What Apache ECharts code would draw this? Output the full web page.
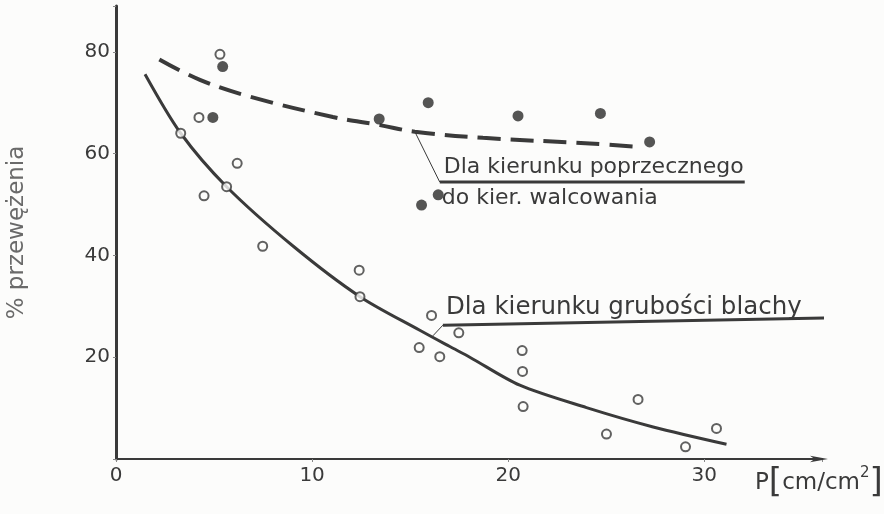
<!DOCTYPE html>
<html>
<head>
<meta charset="utf-8">
<script src="https://cdn.jsdelivr.net/npm/echarts@6/dist/echarts.min.js"></script>
<style>
html,body{margin:0;padding:0;background:#fcfcfb;}
#c{width:884px;height:514px;}
</style>
</head>
<body>
<div id="c"></div>
<script>
// ---- data ----
var xTicks = [0, 10, 20, 30];
var yTicks = [20, 40, 60, 80];

// filled circles: transverse to rolling direction
var transversePts = [
  [4.94, 67.1], [5.44, 77.1], [13.42, 66.8], [15.58, 49.9], [15.92, 70.0],
  [16.43, 51.9], [20.5, 67.4], [24.7, 67.9], [27.21, 62.3]
];
// open circles: sheet thickness direction
var thicknessPts = [
  [5.30, 79.5], [4.23, 67.1], [3.30, 64.0], [6.18, 58.1], [4.49, 51.7],
  [5.64, 53.5], [7.48, 41.8], [12.40, 37.1], [12.44, 31.9], [16.09, 28.2],
  [17.48, 24.8], [15.46, 21.9], [16.51, 20.1], [20.71, 21.3], [20.73, 17.2],
  [20.76, 10.3], [26.62, 11.7], [25.01, 4.9], [30.62, 6.0], [29.04, 2.4]
];
// fitted curves
var transverseCurve = [
  [2.21, 78.5], [4.28, 74.5], [6.83, 71.2], [11.06, 67.2], [13.46, 65.6],
  [15.24, 64.3], [18.71, 63.1], [24.16, 62.0], [26.7, 61.3]
];
var thicknessCurve = [
  [1.48, 75.6], [3.30, 64.0], [5.64, 53.5], [9.04, 41.8], [12.44, 31.9],
  [15.49, 25.3], [17.02, 22.1], [18.04, 20.0], [20.59, 14.5], [23.99, 10.1],
  [27.39, 6.3], [31.13, 2.9]
];
// annotation leader lines (data coords)
var upperLeader = [[15.24, 64.3], [16.51, 54.4]];
var upperUnderline = [[16.51, 54.4], [32.06, 54.4]];
var lowerLeader = [[16.16, 24.2], [16.67, 26.3]];
var lowerUnderline = [[16.67, 26.3], [36.4, 27.7]];
var upperText1 = 'Dla kierunku poprzecznego';
var upperText2 = 'do kier. walcowania';
var lowerText = 'Dla kierunku grubości blachy';
var yName = '% przewężenia';

var INK = '#3a3a3a';
var FONT = 'DejaVu Sans';

var chart = echarts.init(document.getElementById('c'));

function annLine(d, w) {
  return {
    type: 'line', data: d, showSymbol: false, symbol: 'none', silent: true,
    lineStyle: {color: INK, width: w}, z: 3, clip: false
  };
}

var option = {
  backgroundColor: '#fcfcfb',
  animation: false,
  grid: {left: 116, right: 62, top: 6, bottom: 55, containLabel: false, outerBoundsMode: 'none'},
  xAxis: {
    type: 'value', min: 0, max: 36, interval: 10,
    splitLine: {show: false},
    axisLine: {show: true, lineStyle: {color: INK, width: 2},
               symbol: ['none', 'arrow'], symbolSize: [5, 18], symbolOffset: [0, 6]},
    axisTick: {show: true, length: 3, lineStyle: {color: '#888', width: 1}},
    axisLabel: {color: INK, fontSize: 20, fontFamily: FONT, margin: 7,
      formatter: function (v) { return xTicks.indexOf(v) >= 0 ? String(v) : ''; }}
  },
  yAxis: {
    type: 'value', min: 0, max: 89, interval: 20,
    splitLine: {show: false},
    axisLine: {show: true, lineStyle: {color: INK, width: 3}},
    axisTick: {show: true, length: 3, lineStyle: {color: '#888', width: 1}},
    axisLabel: {color: INK, fontSize: 20, fontFamily: FONT, margin: 6,
      formatter: function (v) { return yTicks.indexOf(v) >= 0 ? String(v) : ''; }},
    name: yName, nameLocation: 'middle', nameGap: 87, nameRotate: 90,
    nameTextStyle: {color: '#6a6a6a', fontSize: 23, fontFamily: FONT}
  },
  series: [
    {
      type: 'line', data: transverseCurve, smooth: 0.4, showSymbol: false, symbol: 'none',
      lineStyle: {color: INK, width: 4, type: [23, 10]}, z: 2
    },
    {
      type: 'line', data: thicknessCurve, smooth: 0.3,
      showSymbol: false, symbol: 'none',
      lineStyle: {color: INK, width: 3}, z: 2
    },
    {
      type: 'scatter', data: transversePts, symbol: 'circle', symbolSize: 11,
      itemStyle: {color: '#2a2a2a'}, z: 4
    },
    {
      type: 'scatter', data: thicknessPts, symbol: 'circle', symbolSize: 9,
      itemStyle: {color: '#fcfcfb', borderColor: INK, borderWidth: 2}, z: 4
    },
    annLine(upperLeader, 1),
    annLine(upperUnderline, 3),
    annLine(lowerLeader, 1),
    annLine(lowerUnderline, 3)
  ]
};
chart.setOption(option);

function px(p) { return chart.convertToPixel({gridIndex: 0}, p); }
var u1 = px(upperUnderline[0]);
var l1 = px(lowerUnderline[0]);

chart.setOption({
  graphic: [
    {type: 'text', left: u1[0] + 4, top: u1[1] - 26,
     style: {text: upperText1, fill: INK, font: '22px "' + FONT + '"'}},
    {type: 'text', left: u1[0] + 2, top: u1[1] + 5,
     style: {text: upperText2, fill: INK, font: '22px "' + FONT + '"'}},
    {type: 'text', left: l1[0] + 3, top: l1[1] - 30,
     style: {text: lowerText, fill: INK, font: '24.5px "' + FONT + '"'}},
    {type: 'text', left: 755, top: 466,
     style: {
       rich: {
         a: {fontSize: 23, fontFamily: FONT, fill: INK, verticalAlign: 'middle'},
         b: {fontSize: 34, fontFamily: FONT, fill: INK, verticalAlign: 'middle'},
         s: {fontSize: 15, fontFamily: FONT, fill: INK, verticalAlign: 'top', padding: [0, 0, 14, 0]}
       },
       text: '{a|P}{b|[}{a|cm/cm}{s|2}{b|]}'
     }}
  ]
});
</script>
</body>
</html>
